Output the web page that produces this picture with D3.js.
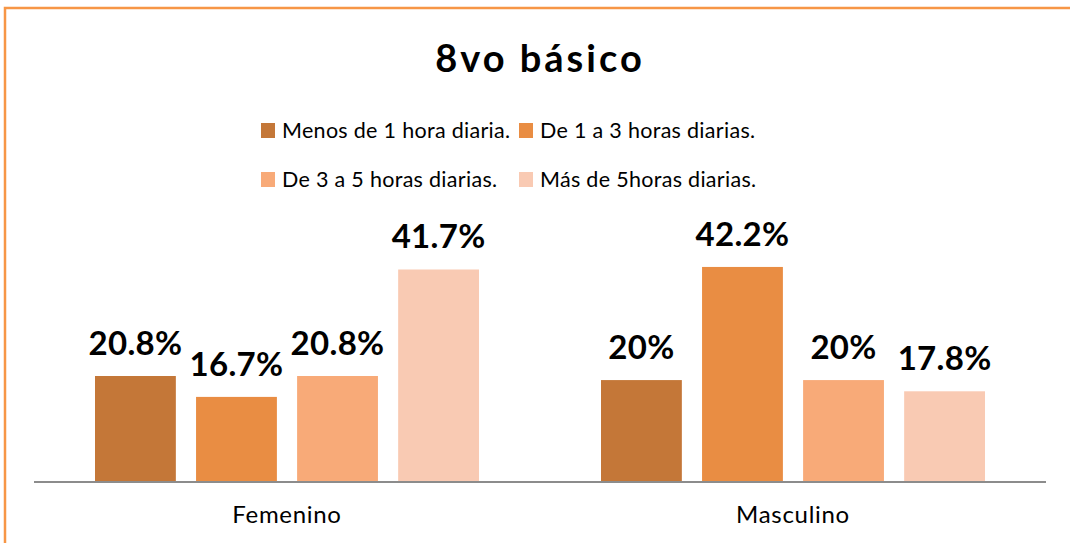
<!DOCTYPE html>
<html><head><meta charset="utf-8">
<script src="https://cdn.jsdelivr.net/npm/d3@7"></script>
<style>html,body{margin:0;padding:0;background:#fff;overflow:hidden}</style>
</head><body>
<svg id="chart" width="1070" height="543"></svg>
<script>
const title = "8vo básico";
const categories = ["Femenino", "Masculino"];
const seriesNames = ["Menos de 1 hora diaria.", "De 1 a 3 horas diarias.", "De 3 a 5 horas diarias.", "Más de 5horas diarias."];
const seriesColors = ["#C47738", "#E98D43", "#F8AA78", "#F9CAB3"];
const femenino = [20.8, 16.7, 20.8, 41.7];
const masculino = [20, 42.2, 20, 17.8];
const valueLabels = [["20.8%", "16.7%", "20.8%", "41.7%"], ["20%", "42.2%", "20%", "17.8%"]];

const values = [femenino, masculino];
const svg = d3.select("#chart");
const font = "Lato, 'Open Sans', sans-serif";

// border
svg.append("path").attr("d", "M5,543 V8 H1070").attr("fill", "none")
  .attr("stroke", "#F79646").attr("stroke-width", 2.5);

const left = 34, right = 1046, baseline = 482;
const x0 = d3.scaleBand().domain(categories).range([left, right]).paddingInner(0).paddingOuter(0);
const x1 = d3.scaleBand().domain(d3.range(4)).range([61, 445]).paddingInner(0.2).paddingOuter(0);
const y = d3.scaleLinear().domain([0, 50]).range([baseline, baseline - 50 * 5.096]);

// title
svg.append("text").attr("x", 540).attr("y", 72).attr("text-anchor", "middle")
  .attr("font-family", font).attr("font-weight", "bold").attr("font-size", 38)
  .attr("letter-spacing", 3).attr("fill", "#000").text(title);

// legend
const legendPos = [[261, 138], [519, 138], [261, 187], [519, 187]];
const lg = svg.append("g");
seriesNames.forEach((s, i) => {
  const [lx, ly] = legendPos[i];
  lg.append("rect").attr("x", lx).attr("y", ly - 15).attr("width", 14).attr("height", 15).attr("fill", seriesColors[i]);
  lg.append("text").attr("x", lx + 21).attr("y", ly).attr("font-family", font).attr("font-size", 21.5)
    .attr("letter-spacing", 0.3).attr("fill", "#000").text(s);
});

// bars
categories.forEach((c, ci) => {
  const g = svg.append("g").attr("transform", `translate(${x0(c)},0)`);
  values[ci].forEach((v, si) => {
    g.append("rect").attr("x", x1(si)).attr("y", y(v)).attr("width", x1.bandwidth())
      .attr("height", baseline - y(v)).attr("fill", seriesColors[si]);
    g.append("text").attr("x", x1(si) + x1.bandwidth() / 2).attr("y", y(v) - 21)
      .attr("text-anchor", "middle").attr("font-family", font).attr("font-weight", "bold")
      .attr("font-size", 33).attr("letter-spacing", 0.3).attr("fill", "#000").text(valueLabels[ci][si]);
  });
});

// axis
const axis = svg.append("g").attr("transform", `translate(0,${baseline})`)
  .call(d3.axisBottom(x0).tickSize(0).tickPadding(0));
axis.select(".domain").attr("stroke", "#8C8C8C").attr("stroke-width", 2).attr("d", `M${left},0H${right}`);
axis.selectAll(".tick text").attr("font-family", font).attr("font-size", 24).attr("letter-spacing", 0.7)
  .attr("fill", "#000").attr("dy", 0).attr("y", 41);
</script>
</body></html>
